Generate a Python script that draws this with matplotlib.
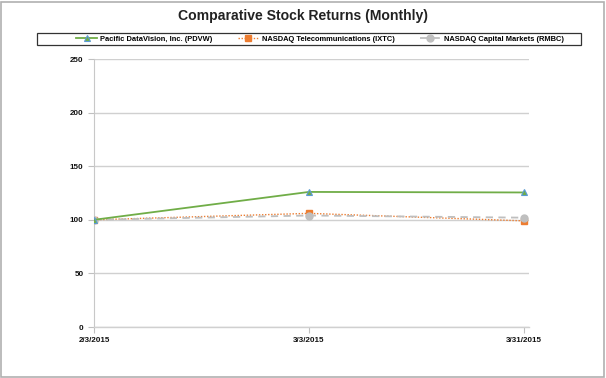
import matplotlib
matplotlib.use("Agg")
import matplotlib.pyplot as plt
from matplotlib.patches import Rectangle

dates = ["2/3/2015", "3/3/2015", "3/31/2015"]
pdvw = [100, 126, 125.5]
ixtc = [100, 106, 99]
rmbc = [100, 104, 102]
labels = ["Pacific DataVision, Inc. (PDVW)", "NASDAQ Telecommunications (IXTC)", "NASDAQ Capital Markets (RMBC)"]
yticks = [0, 50, 100, 150, 200, 250]

plt.rcParams['font.family'] = ['Liberation Sans', 'DejaVu Sans']

fig = plt.figure(figsize=(6.06, 3.78), dpi=100)
ax = fig.add_axes([94/606, 51/378, 435/606, 268/378])
x = list(range(len(dates)))

ax.plot(x, pdvw, color='#70AD47', lw=1.3, ls='-', marker='^', ms=5,
        mfc='#70AD47', mec='#5B9BD5', mew=0.8, label=labels[0], zorder=4)
ax.plot(x, ixtc, color='#ED7D31', lw=1.0, ls=(0, (1, 1.2)), marker='s', ms=4.5,
        mfc='#ED7D31', mec='#ED7D31', label=labels[1], zorder=3)
ax.plot(x, rmbc, color='#BFBFBF', lw=1.3, ls=(0, (4, 3)), marker='o', ms=5,
        mfc='#BFBFBF', mec='#BFBFBF', label=labels[2], zorder=3)

ax.set_xlim(0, 2.023)
ax.set_ylim(0, 250)
ax.set_yticks(yticks)
ax.set_xticks(x)
ax.set_xticklabels(dates)
ax.yaxis.grid(True, color='#D0D0D0', lw=1.0)
ax.set_axisbelow(True)
for s in ['top', 'right']:
    ax.spines[s].set_visible(False)
ax.spines['left'].set_color('#C8C8C8')
ax.spines['bottom'].set_color('#D0D0D0')
ax.spines['bottom'].set_linewidth(1.0)
ax.tick_params(axis='both', colors='#C0C0C0', length=4, width=0.8, labelsize=5.8, labelcolor='#111111')
for t in ax.get_xticklabels() + ax.get_yticklabels():
    t.set_fontweight('bold')

fig.text(0.5, 1 - 16/378, "Comparative Stock Returns (Monthly)", ha='center', va='center',
         fontsize=10.1, fontweight='bold', color='#222222')

leg = fig.legend(loc='center', bbox_to_anchor=(320/606, 1 - 39/378),
                 ncol=3, frameon=False, borderpad=0, handlelength=2.7,
                 handletextpad=0.45, columnspacing=3.4, borderaxespad=0,
                 prop={'weight': 'bold', 'size': 5.4})

fig.patches.append(Rectangle((37/606, 1 - 45/378), 544/606, 12/378, transform=fig.transFigure,
                             fill=False, edgecolor='#333333', lw=0.9))
fig.patches.append(Rectangle((1/606, 1/378), 603/606, 375/378, transform=fig.transFigure,
                             fill=False, edgecolor='#B0B0B0', lw=1.2))

fig.savefig('out.png', dpi=100)
